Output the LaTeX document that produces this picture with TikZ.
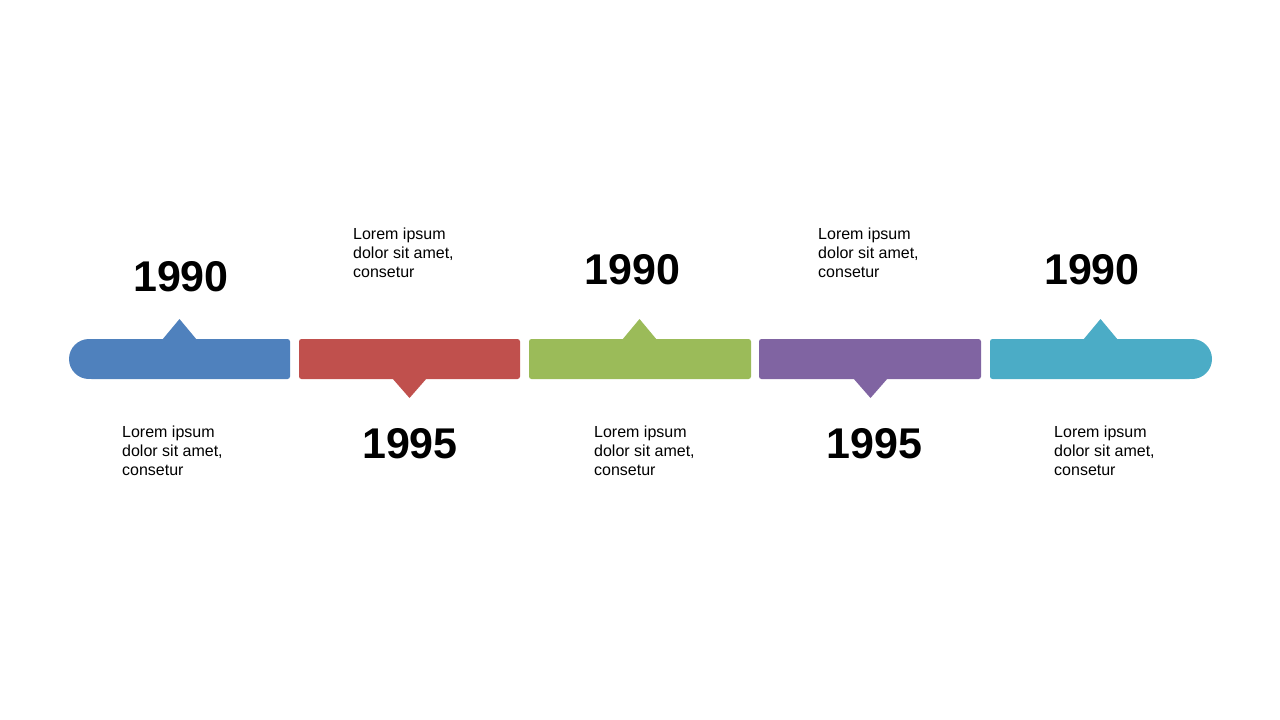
\documentclass[tikz,border=0pt]{standalone}
\usepackage{fontspec}
\setmainfont{Liberation Sans}
\definecolor{barblue}{HTML}{4F81BD}
\definecolor{barred}{HTML}{C0504D}
\definecolor{bargreen}{HTML}{9BBB59}
\definecolor{barpurple}{HTML}{8064A2}
\definecolor{barcyan}{HTML}{4BACC6}
\begin{document}
\begin{tikzpicture}[x=1pt, y=-1pt,
    bar/.style={rounded corners=2.5pt},
    year/.style={anchor=base, inner sep=0pt, font=\fontsize{43}{50}\selectfont\bfseries},
    lorem/.style={anchor=base west, inner sep=0pt, align=left,
      font=\fontsize{16}{19}\selectfont}]
    \fill[white] (0,0) rectangle (1280,720);
    \useasboundingbox (0,0) rectangle (1280,720);

    % bars
    \begin{scope}[barblue]
      \fill[bar] (89,339) rectangle (290,379); \fill (89,359) circle
      [radius=20]; \fill (162,340) -- (179.5,319) -- (197,340) -- cycle;
    \end{scope}
    \begin{scope}[barred]
      \fill[bar] (299,339) rectangle (520,379); \fill (392,378) --
      (409.5,398) -- (427,378) -- cycle;
    \end{scope}
    \begin{scope}[bargreen]
      \fill[bar] (529,339) rectangle (751,379); \fill (622,340) --
      (639.5,319) -- (657,340) -- cycle;
    \end{scope}
    \begin{scope}[barpurple]
      \fill[bar] (759,339) rectangle (981,379); \fill (853,378) --
      (870.5,398) -- (888,378) -- cycle;
    \end{scope}
    \begin{scope}[barcyan]
      \fill[bar] (990,339) rectangle (1192,379); \fill (1192,359) circle
      [radius=20]; \fill (1083,340) -- (1100.5,319) -- (1118,340) -- cycle;
    \end{scope}

    % years
    \node[year] (y1) at (181,291) {1990}; \node[year] (y2) at
    (410,458) {1995}; \node[year] (y3) at (632.5,284) {1990};
    \node[year] (y4) at (874.5,458) {1995}; \node[year] (y5) at
    (1092,284) {1990};

    % texts (base = last line)
    \node[lorem] (t1) at (122,475) {Lorem ipsum\\dolor sit amet,\\consetur};
    \node[lorem] (t2) at (353,277) {Lorem ipsum\\dolor sit amet,\\consetur};
    \node[lorem] (t3) at (594,475) {Lorem ipsum\\dolor sit amet,\\consetur};
    \node[lorem] (t4) at (818,277) {Lorem ipsum\\dolor sit amet,\\consetur};
    \node[lorem] (t5) at (1054,475) {Lorem ipsum\\dolor sit amet,\\consetur};
\end{tikzpicture}
\end{document}
